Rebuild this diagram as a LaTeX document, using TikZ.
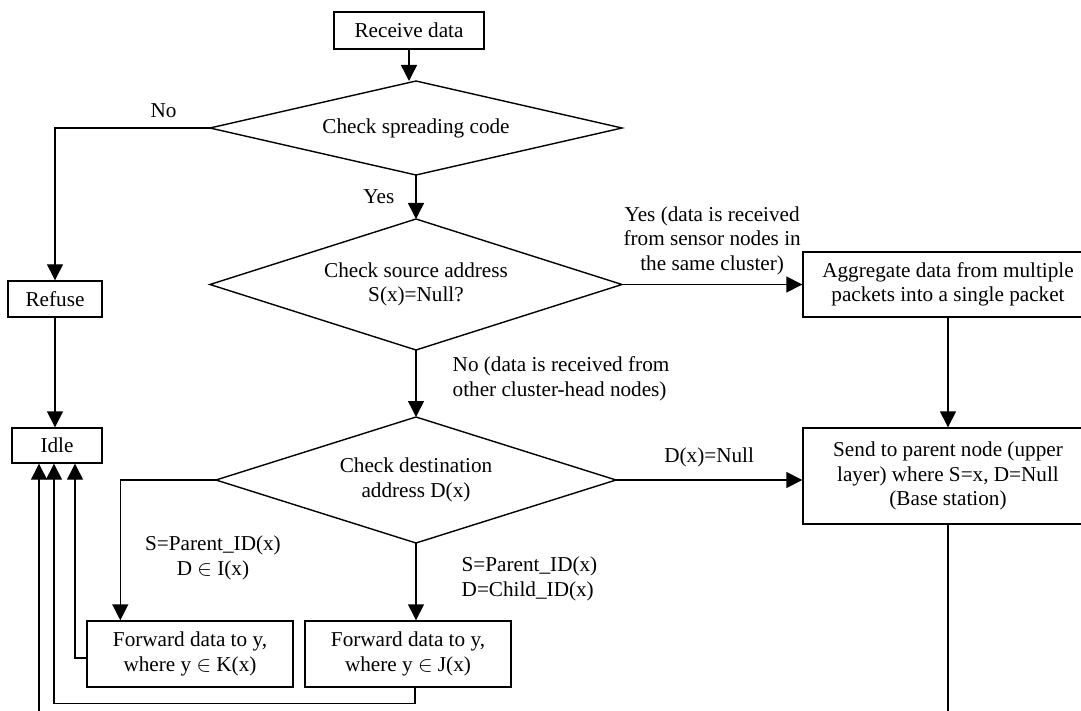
\documentclass[tikz,border=0pt]{standalone}
\usepackage{fontspec}
\setmainfont{Liberation Serif}
\usepackage{tikz}
\usetikzlibrary{arrows.meta, shapes.geometric, positioning, calc}

\begin{document}
\begin{tikzpicture}[x=0.5pt, y=-0.5pt, >={Triangle[width=8pt,length=8pt]},
    line width=0.7pt, font=\fontsize{10.6}{12.3}\selectfont,
    box/.style={draw, rectangle, align=center, inner sep=1pt},
    decision/.style={draw, diamond, align=center, inner sep=0pt, outer sep=0pt},
    lbl/.style={inner sep=1pt}]
    \useasboundingbox (0,0) rectangle (1081,711);
    \clip (0,0) rectangle (1081,711);

    % 1. Các khối
    \node[box, minimum width=75pt, minimum height=18.5pt] (recv) at (409,30.5) {Receive data};
    \node[decision, minimum width=206pt, minimum height=47pt, shape aspect=4.4] (chk1) at (416,128) {Check spreading code};
    \node[box, minimum width=47pt, minimum height=18pt] (refuse) at (55,299) {Refuse};
    \node[box, minimum width=45pt, minimum height=17.5pt] (idle) at (57,445.5) {Idle};
    \node[decision, minimum width=206pt, minimum height=65.5pt, shape aspect=3.1] (chk2) at (416,284.5) {Check source address\\S(x)=Null?};
    \node[box, minimum width=145pt, minimum height=32.5pt] (agg) at (948,284.5) {Aggregate data from multiple\\packets into a single packet};
    \node[decision, minimum width=200pt, minimum height=63pt, shape aspect=3.2] (chk3) at (416,480) {Check destination\\address D(x)};
    \node[box, minimum width=145pt, minimum height=48pt] (send) at (948,476) {Send to parent node (upper\\layer) where S=x, D=Null\\(Base station)};
    \node[box, minimum width=103pt, minimum height=33pt] (fwdK) at (190,654) {Forward data to y,\\where y $\in$ K(x)};
    \node[box, minimum width=103pt, minimum height=33pt] (fwdJ) at (408,654) {Forward data to y,\\where y $\in$ J(x)};

    % 2. Các mũi tên
    \draw[->] (recv.south) -- (recv.south |- chk1.north);
    \draw[->] (chk1.west) -| node[lbl, above, pos=0.15, yshift=4pt] (lno) {No} (refuse.north);
    \draw[->] (refuse.south) -- (refuse.south |- idle.north);
    \draw[->] (chk1) -- node[lbl, left, xshift=-9.5pt] (lyes) {Yes} (chk2);
    \draw[->] (chk2) -- node[lbl, above, align=center, yshift=3.5pt] (lsame) {Yes (data is received\\from sensor nodes in\\the same cluster)} (agg);
    \draw[->] (agg) -- (send);
    \draw[->] (chk2) -- (chk3);
    \node[lbl, anchor=west, align=left] (lother) at (450,379) {No (data is received from\\other cluster-head nodes)};
    \draw[->] (chk3.east) -- node[lbl, above, yshift=5pt] (lnull) {D(x)=Null} (chk3.east -| send.west);
    \draw[->] (chk3.west) -| ([xshift=17pt]fwdK.north west);
    \node[lbl, align=center] (lkin) at (213,558) {S=Parent\_ID(x)\\D $\in$ I(x)};
    \draw[->] (chk3.south) -- (chk3.south |- fwdJ.north);
    \node[lbl, anchor=west, align=left] (ljin) at (459,579) {S=Parent\_ID(x)\\D=Child\_ID(x)};

    % 3. Quay về Idle
    \draw[->] ([yshift=-2pt]fwdK.west) -| ([xshift=9pt]idle.south);
    \draw[->] ([xshift=3.5pt]fwdJ.south) -- ++(0,16) -| ([xshift=-1.5pt]idle.south);
    \draw[->] (send.south) -- ++(0,240) -| ([xshift=-9pt]idle.south);
\end{tikzpicture}
\end{document}
